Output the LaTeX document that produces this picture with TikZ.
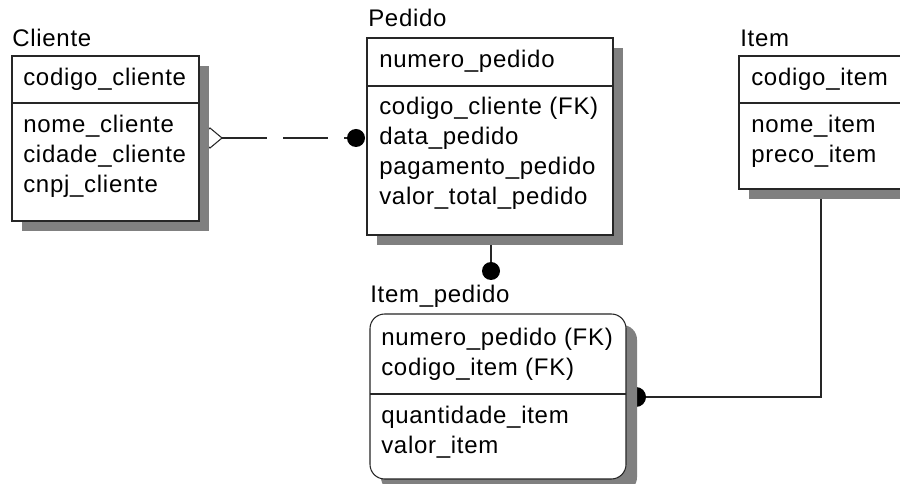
\documentclass[tikz,border=0pt]{standalone}
\usepackage{fontspec}
\newfontfamily\erfamily[LetterSpace=3]{Liberation Sans}
\newcommand\erfont{\erfamily\fontsize{18pt}{21pt}\selectfont}
\definecolor{shadowgray}{HTML}{808080}
\definecolor{edgegray}{HTML}{262626}
\tikzset{
	entbox/.style={draw=edgegray,fill=white,line width=0.8pt},
	shadowbox/.style={fill=shadowgray},
	attr/.style={anchor=base west,inner sep=0pt,font=\erfont},
	rel/.style={draw=edgegray,line width=0.8pt},
	dot/.style={fill,circle,inner sep=0pt,minimum size=13.5pt},
}
\begin{document}
\begin{tikzpicture}[x=0.75pt,y=-0.75pt]
		\clip (0,0) rectangle (900,484);
		
		% connectors
		\coordinate (cliR) at (222,138);
		\node[dot] (pedA) at (356,138) {};
		\draw[rel,fill=white] (cliR) -- (210,128) -- (198,138) -- (210,148) -- cycle;
		\draw[rel,dash pattern=on 33.75pt off 12pt] (cliR) -- (pedA);
		
		\coordinate (pedB) at (491,243);
		\node[dot] (ipA) at (491,271) {};
		\draw[rel] (pedB) -- (ipA);
		
		\coordinate (itB) at (821,197);
		\node[dot,minimum size=15pt] (ipB) at (636,397) {};
		\draw[rel] (itB) |- (ipB);
		
		% shadows
		\fill[shadowbox] (22,66) rectangle (209,231);
		\fill[shadowbox] (377,48) rectangle (623,245);
		\fill[shadowbox] (749,66) rectangle (912,199);
		\fill[shadowbox,rounded corners=11pt] (381,325) rectangle (637,492);
		
		% entities
		\draw[entbox] (12,56) rectangle (199,221);
		\draw[rel] (12,103) -- (199,103);
		\draw[entbox] (367,38) rectangle (613,235);
		\draw[rel] (367,86) -- (613,86);
		\draw[entbox] (739,56) rectangle (905,189);
		\draw[rel] (739,103) -- (905,103);
		\draw[entbox,rounded corners=11pt] (370,314) rectangle (626,479);
		\draw[rel] (370,394) -- (626,394);
		
		% titles
		\node[attr] (cliT) at (12,47) {Cliente};
		\node[attr] (pedT) at (368,27) {Pedido};
		\node[attr] (itT) at (740,47) {Item};
		\node[attr] (ipT) at (370,303) {Item\_pedido};
		
		% attributes
		\node[attr] (cli1) at (23,86) {codigo\_cliente};
		\foreach \t[count=\i] in {nome\_cliente,cidade\_cliente,cnpj\_cliente}{
			\node[attr] (cli\i) at (23,103+30*\i) {\t};
		}
		
		\node[attr] (ped1) at (379,68) {numero\_pedido};
		\foreach \t[count=\i] in {codigo\_cliente (FK),data\_pedido,pagamento\_pedido,valor\_total\_pedido}{
			\node[attr] (ped\i) at (379,85+30*\i) {\t};
		}
		
		\node[attr] (it1) at (751,86) {codigo\_item};
		\foreach \t[count=\i] in {nome\_item,preco\_item}{
			\node[attr] (it\i) at (751,103+30*\i) {\t};
		}
		
		\node[attr] (ip1) at (381,346) {numero\_pedido (FK)};
		\node[attr] (ip2) at (381,376) {codigo\_item (FK)};
		\foreach \t[count=\i] in {quantidade\_item,valor\_item}{
			\node[attr] (ipn\i) at (381,394+30*\i) {\t};
		}
\end{tikzpicture}
\end{document}
